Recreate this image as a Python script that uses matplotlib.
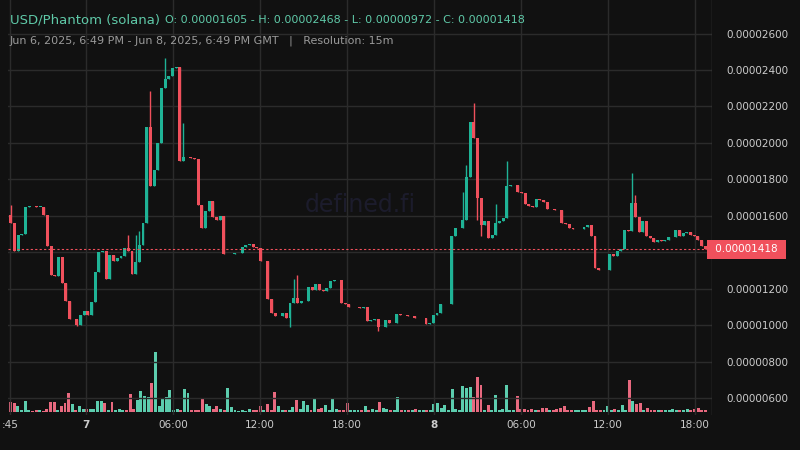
import matplotlib
matplotlib.use("Agg")
import matplotlib.pyplot as plt
import numpy as np

# closes in units of 1e-8 USD
first_open = 1605
closes = [
 1562,1408,1496,1500,1650,1655,1652,1650,1650,1605,
 1435,1277,1270,1375,1233,1134,1035,1035,1003,1058,
 1080,1058,1129,1293,1403,1410,1255,1386,1353,1370,
 1380,1425,1410,1282,1348,1441,1562,2088,1764,1852,
 2000,2301,2350,2367,2411,2415,1901,1923,1925,1920,
 1912,1660,1534,1627,1682,1594,1578,1600,1392,1392,
 1392,1395,1397,1430,1441,1447,1432,1425,1353,1353,
 1145,1068,1052,1052,1068,1041,1123,1151,1123,1134,
 1134,1211,1194,1227,1194,1189,1205,1244,1249,1249,
 1123,1118,1101,1101,1101,1096,1101,1024,1030,1035,
 992,992,1030,1013,1013,1063,1057,1057,1050,1052,
 1041,1041,1041,1008,1013,1057,1068,1118,1118,1118,
 1490,1534,1534,1578,1814,2115,2027,1699,1550,1572,
 1479,1496,1562,1572,1589,1764,1770,1770,1731,1725,
 1666,1655,1650,1693,1688,1677,1638,1638,1635,1633,
 1562,1556,1534,1529,1529,1529,1537,1550,1490,1315,
 1304,1304,1304,1392,1381,1408,1419,1523,1520,1671,
 1594,1512,1572,1490,1479,1457,1468,1465,1468,1485,
 1485,1523,1490,1507,1512,1496,1490,1468,1435,1418,
]
# notable wick extremes: candle index -> value (1e-8 USD)
wick_high = {0: 1660, 32: 1496, 34: 1496, 35: 1518, 38: 2285, 42: 2468, 47: 2110,
             77: 1255, 78: 1277, 123: 1731, 124: 1880, 126: 2219, 132: 1666,
             135: 1901, 169: 1836, 170: 1715}
wick_low = {76: 992, 100: 972, 127: 1578, 128: 1490, 18: 995}
volumes = [
 10,9,6,2,11,2,1,2,2,1, 3,10,10,2,6,9,19,8,2,6, 3,3,3,3,11,11,9,2,10,2,
 3,2,2,18,3,12,21,16,15,29, 60,6,13,15,22,2,3,2,23,19, 2,2,2,13,8,6,3,6,3,2,
 24,5,2,1,2,1,3,2,2,6, 2,8,2,20,6,2,2,2,5,12, 3,11,7,2,14,3,4,7,2,13,
 3,2,2,9,2,2,2,
 2,6,2,3,2,10,4,3,2,2,15,2,2,2,2,3,2,2,2,2,8,9,4,7,2,23,3,2,26,24,25,15,35,27,
 2,7,2,17,2,3,27,2,2,16,3,3,2,3,2,2,4,4,2,2,3,4,6,2,2,2,2,2,2,5,11,2,2,2,6,2,
 3,2,7,2,32,11,8,9,2,4,2,2,2,2,2,2,3,2,2,2,3,2,3,4,2,2,
]
tick_hours = [0, 5.25, 11.25, 17.25, 23.25, 29.25, 35.25, 41.25, 47.25]
tick_labels = [":45", "7", "06:00", "12:00", "18:00", "8", "06:00", "12:00", "18:00"]
price_ticks = [600, 800, 1000, 1200, 1400, 1600, 1800, 2000, 2200, 2400, 2600]
last_close = 1418

BG = "#111111"; GRID = "#2b2b2b"
UP = "#1fb396"; DN = "#f0505c"
VUP = "#5ccdae"; VDN = "#e8697f"

fig = plt.figure(figsize=(8, 4.5), dpi=100, facecolor=BG)
ax = fig.add_axes([8/800, 35/450, 704/800, 415/450], facecolor=BG)
vax = ax.twinx()
ax.set_zorder(vax.get_zorder() + 1); ax.patch.set_visible(False)
vax.patch.set_facecolor(BG)

n = len(closes)
xs = np.linspace(0.05, 47.95, n)
opens = [first_open] + closes[:-1]
w = (xs[1] - xs[0]) * 0.8
for i in range(n):
    o, c = opens[i], closes[i]
    col = UP if c >= o else DN
    hi = max(wick_high.get(i, max(o, c)), max(o, c))
    lo = min(wick_low.get(i, min(o, c)), min(o, c))
    ax.vlines(xs[i], lo*1e-8, hi*1e-8, color=col, lw=1, zorder=3)
    h = abs(c - o) if abs(c - o) > 2 else 2
    ax.bar(xs[i], h*1e-8, bottom=min(o, c)*1e-8, width=w, color=col, zorder=4, linewidth=0)

nv = len(volumes)
vx = np.linspace(0.05, 47.95, nv)
for j, v in enumerate(volumes):
    k = int(round(j * (n - 1) / (nv - 1)))
    vc = VUP if closes[k] >= opens[k] else VDN
    vax.bar(vx[j], v, width=w, color=vc, linewidth=0)
vax.set_ylim(-3, 412)
vax.set_yticks([])

ax.set_xlim((8-10)/14.5, (712-10)/14.5)
ax.set_ylim((2400 - 345*5.48)*1e-8, (2400 + 70*5.48)*1e-8)
ax.set_yticks([p*1e-8 for p in price_ticks])
# the 0.00001400 label is hidden under the last-price tag in the reference
ax.set_yticklabels(["" if p == 1400 else f"{p*1e-8:.8f}" for p in price_ticks])
ax.yaxis.tick_right()
ax.set_xticks(tick_hours)
ax.set_xticklabels(tick_labels)
for lab in ax.get_xticklabels():
    if lab.get_text() in ("7", "8"):
        lab.set_fontweight("bold")
ax.tick_params(axis="both", colors="#cccccc", labelsize=7.5, length=0)
ax.tick_params(axis="y", pad=10)
ax.grid(True, color=GRID, lw=1)
ax.set_axisbelow(True)
for s in ax.spines.values(): s.set_visible(False)
for s in vax.spines.values(): s.set_visible(False)
ax.axvline(ax.get_xlim()[1], color="#444444", lw=1)

ax.axhline(last_close*1e-8, color=DN, lw=0.8, ls=(0, (2, 2)), zorder=5)
ax.text(1.0, last_close*1e-8, f" {last_close*1e-8:.8f} ", transform=ax.get_yaxis_transform(),
        ha="left", va="center", fontsize=7.5, color="white",
        bbox=dict(boxstyle="square,pad=0.45", fc=DN, ec="none"), zorder=6)

fig.text(360/800, 1-205/450, "defined.fi", color="#1c1c2c", fontsize=17, ha="center", va="center")
fig.text(10/800, 1-20/450, "USD/Phantom (solana)", color="#5fc9a8", fontsize=9.5, va="center")
fig.text(165/800, 1-20/450, "O: 0.00001605 - H: 0.00002468 - L: 0.00000972 - C: 0.00001418",
         color="#5fc9a8", fontsize=8, va="center")
fig.text(10/800, 1-41/450, "Jun 6, 2025, 6:49 PM - Jun 8, 2025, 6:49 PM GMT   |   Resolution: 15m",
         color="#9a9a9a", fontsize=8, va="center")

fig.savefig("out.png", dpi=100, facecolor=BG)
